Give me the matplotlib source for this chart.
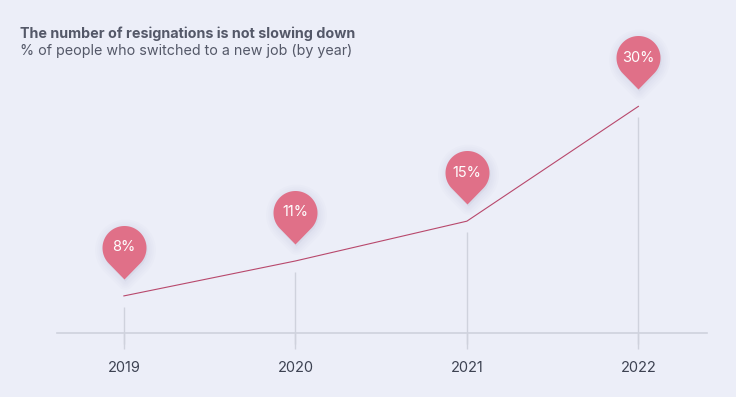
import numpy as np
import matplotlib
matplotlib.use("Agg")
import matplotlib.pyplot as plt
import matplotlib.transforms as mtransforms
from matplotlib.path import Path

# data
years = [2019, 2020, 2021, 2022]
share = [8, 11, 15, 30]
labels = ["8%", "11%", "15%", "30%"]

title = "The number of resignations is not slowing down"
subtitle = "% of people who switched to a new job (by year)"

bg = "#eceef8"
pin_color = "#e07088"
line_color = "#b8486c"
grid_color = "#cfd2dd"
text_color = "#3d4252"

plt.rcParams["font.family"] = ["Inter", "DejaVu Sans"]

fig = plt.figure(figsize=(7.36, 3.97), dpi=100, facecolor=bg)
ax = fig.add_axes([57 / 736, 64 / 397, 650 / 736, 303 / 397], facecolor=bg)

# the chart spaces values roughly like a square-root scale
ax.set_yscale("function", functions=(np.sqrt, np.square))
ax.set_ylim(5.336, 42.83)
ax.set_xlim(2018.61, 2022.40)

for s in ["top", "left", "right"]:
    ax.spines[s].set_visible(False)
ax.spines["bottom"].set_color(grid_color)
ax.spines["bottom"].set_linewidth(1.2)

ax.set_xticks(years)
ax.set_xticklabels([str(y) for y in years])
ax.tick_params(axis="x", direction="out", length=11.5, width=1.0, color=grid_color,
               labelsize=10.5, labelcolor=text_color, pad=8.5)
ax.set_yticks([])

# vertical guides stopping a little below each point
down = mtransforms.offset_copy(ax.transData, fig=fig, x=0, y=-11, units="dots")
ax.vlines(years, 5.336, share, transform=down, color=grid_color, lw=1.0, clip_on=False)

ax.plot(years, share, color=line_color, lw=0.8, zorder=3)

# teardrop pin marker, origin at the data point (units: pixels)
tip, cy, r = 17.0, 48.5, 22.0
d = cy - tip
half = np.degrees(np.arccos(r / d))
t = np.radians(np.linspace(-90 + half, 270 - half, 80))
verts = np.column_stack([r * np.cos(t), cy + r * np.sin(t)])
verts = np.vstack([verts, [[0, tip]], verts[:1]])
codes = [Path.MOVETO] + [Path.LINETO] * (len(verts) - 2) + [Path.CLOSEPOLY]
pin = Path(verts, codes)
msize = 2 * np.max(np.abs(verts)) * 72 / fig.dpi

# soft shadow
shadow = mtransforms.offset_copy(ax.transData, fig=fig, x=1, y=-2, units="dots")
for mew in [12, 9, 6, 3.5]:
    ax.plot(years, share, ls="none", marker=pin, markersize=msize,
            markerfacecolor="#c3c7dd", markeredgecolor="#c3c7dd",
            markeredgewidth=mew, alpha=0.07, transform=shadow, zorder=4, clip_on=False)

ax.plot(years, share, ls="none", marker=pin, markersize=msize,
        markerfacecolor=pin_color, markeredgewidth=0, zorder=5, clip_on=False)

for x, y, lab in zip(years, share, labels):
    ax.annotate(lab, (x, y), xytext=(0, cy * 72 / fig.dpi), textcoords="offset points",
                ha="center", va="center", color="white", fontsize=10.5, zorder=6)

fig.text(20 / 736, 1 - 33.5 / 397, title, fontsize=10.3, fontweight="bold",
         color="#545868", va="center", ha="left")
fig.text(20 / 736, 1 - 51.5 / 397, subtitle, fontsize=10.3,
         color="#545868", va="center", ha="left")

fig.savefig("out.png", dpi=100, facecolor=bg)
